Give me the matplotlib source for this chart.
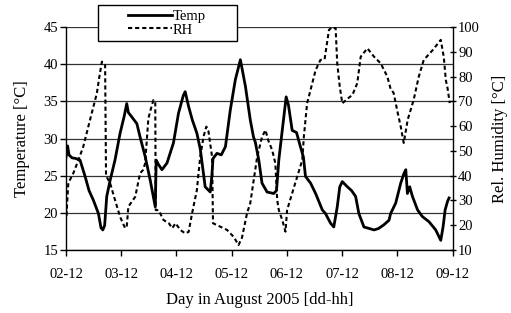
import matplotlib
matplotlib.use("Agg")
import matplotlib.pyplot as plt
from matplotlib.patches import Rectangle

plt.rcParams['font.family'] = ['Liberation Serif', 'DejaVu Serif']

# hours since 02-12 (day 2, 12:00)
temp_h = [0, 0.7, 1.3, 2.6, 4.4, 6.1, 8.3, 10.0, 11.9, 14.1, 15.2, 16.0, 16.8, 17.7, 19.2,
          21.3, 23.5, 25.3, 26.4, 27.1, 28.6, 30.8, 32.2, 34.4, 36.6, 38.8, 39.2, 40.2, 41.7,
          43.9, 46.7, 48.9, 51.0, 51.8, 53.3, 54.9, 56.9, 58.4, 60.5, 62.7, 63.4, 63.9, 65.6,
          67.5, 69.3, 71.4, 73.6, 75.8, 78.0, 80.1, 81.5, 82.3, 83.8, 85.2, 87.4, 90.3, 91.5,
          92.5, 94.0, 95.7, 96.7, 98.3, 100.2, 101.9, 103.2, 104.1, 106.3, 108.5, 111.4,
          112.8, 115.0, 116.4, 117.9, 119.0, 120.1, 122.3, 124.1, 125.9, 127.3, 129.5, 131.7,
          133.9, 135.9, 138.2, 140.4, 141.1, 143.3, 145.5, 146.9, 147.7, 148.4, 149.4, 150.6,
          152.8, 154.9, 157.8, 160.7, 162.9, 163.9, 164.8, 165.8, 166.5]
temp = [27.5, 29.0, 27.8, 27.4, 27.3, 27.1, 24.9, 23.0, 21.7, 19.9, 18.0, 17.7, 18.3, 22.2, 24.4,
        27.1, 30.7, 33.0, 34.7, 33.5, 32.9, 32.0, 30.2, 27.6, 24.4, 20.8, 27.1, 26.5, 25.8,
        26.7, 29.4, 33.4, 35.8, 36.3, 34.3, 32.5, 30.7, 28.5, 23.5, 22.8, 25.0, 27.3, 28.0,
        27.8, 28.9, 33.8, 37.9, 40.6, 37.0, 32.5, 30.2, 29.5, 27.1, 24.0, 22.8, 22.6, 23.0,
        27.1, 31.1, 35.6, 34.5, 31.1, 30.8, 28.9, 27.5, 24.9, 24.0, 22.6, 20.4,
        19.9, 18.6, 18.1, 20.8, 23.5, 24.2, 23.5, 23.0, 22.2, 19.9, 18.1, 17.9,
        17.7, 17.9, 18.4, 19.0, 19.9, 21.3, 24.0, 25.3, 25.8, 22.6, 23.5, 22.2,
        20.4, 19.5, 18.8, 17.7, 16.3, 18.1, 20.4, 21.5, 22.0]

rh_h = [0, 0.2, 1.0, 3.2, 5.4, 7.5, 9.7, 11.9, 13.4, 14.5, 15.6, 17.0, 17.4, 19.2, 21.3, 23.5,
        25.7, 26.4, 27.1, 30.1, 32.2, 33.5, 34.4, 35.8, 36.6, 38.0, 38.8, 39.0, 40.2, 42.4,
        44.7, 46.2, 47.6, 49.7, 51.8, 53.3, 54.8, 56.9, 57.6, 58.4, 59.8, 61.0, 61.9, 63.5,
        63.9, 67.1, 70.0, 72.9, 75.0, 76.5, 78.7, 80.1, 81.6, 83.1, 85.2, 86.7, 88.0, 89.6,
        91.0, 91.8, 92.5, 94.0, 95.4, 96.1, 98.3, 100.5, 102.7, 103.4, 104.8, 106.3, 108.5,
        110.6, 112.4, 114.3, 115.7, 117.2, 117.9, 119.0, 120.1, 122.3, 124.5, 126.6, 128.1,
        131.0, 133.9, 136.8, 139.7, 141.1, 142.4, 144.2, 145.5, 146.8, 147.7, 148.5, 151.1,
        153.3, 155.5, 159.4, 162.9, 164.2, 165.1, 165.9, 166.8]
rh = [27, 24, 37, 41, 46.3, 51.7, 59.8, 67.8, 73.2, 79.9, 86, 84.7, 40, 36.9, 30.2, 23.4,
      18.8, 19.4, 27.5, 31.5, 41, 42.3, 45, 63, 66, 70.5, 70, 26.1, 26.1, 22.1,
      20.8, 18.8, 20.8, 18.1, 16.7, 17.3, 24.8, 34.2, 41, 48, 55.8, 59.8, 58, 47.6,
      20.8, 19.4, 18.1, 15.3, 12, 15, 24.9, 28.9, 38.3, 47.6, 55.6, 58.4, 54, 50.4,
      45, 30.2, 26.1, 22.1, 17.4, 26.1, 32.9, 39.6, 46.3, 55.8, 69.2, 74.6, 82.6,
      86.7, 87, 98.8, 100, 99.5, 85.3, 75.9, 69.2, 71, 72.6, 77.3, 88,
      91.4, 88, 85.3, 79.9, 75, 73.4, 65.3, 59.8, 53.2, 58, 62.5, 70.5,
      79.8, 86.7, 90.7, 94.8, 88, 78.6, 75, 69.3]

xtick_pos = [0, 24, 48, 72, 96, 120, 144, 168]
xtick_labels = ['02-12', '03-12', '04-12', '05-12', '06-12', '07-12', '08-12', '09-12']

fig = plt.figure(figsize=(5.11, 3.13), dpi=100)
ax = fig.add_axes([66/511, 1-250/313, (452.5-66)/511, (250-27)/313])
ax2 = ax.twinx()

l1, = ax.plot(temp_h, temp, color='black', lw=2.0, label='Temp', zorder=3)
l2, = ax2.plot(rh_h, rh, color='black', lw=1.5, linestyle=(0, (2.0, 1.4)), label='RH')

ax.set_xlim(0, 168)
ax.set_ylim(15, 45)
ax2.set_ylim(10, 100)
ax.set_yticks([15, 20, 25, 30, 35, 40, 45])
ax2.set_yticks(list(range(10, 101, 10)))
ax.set_xticks(xtick_pos)
ax.set_xticklabels(xtick_labels)

ax.yaxis.grid(True, color='#333333', lw=0.9)
ax.set_axisbelow(True)

for a in (ax, ax2):
    a.spines['top'].set_visible(False)
ax.spines['right'].set_visible(False)
ax2.spines['left'].set_visible(False)
ax2.spines['bottom'].set_visible(False)
for s in ('left', 'bottom'):
    ax.spines[s].set_linewidth(1.0)
ax2.spines['right'].set_linewidth(1.0)

ax.tick_params(axis='x', direction='out', length=4.5, width=1, labelsize=10.5, pad=8.5)
ax.tick_params(axis='y', direction='out', length=4, width=1, labelsize=10.5, pad=1.5)
ax2.tick_params(axis='y', direction='inout', length=5, width=1, labelsize=10.5, pad=1.5)

ax.set_xlabel('Day in August 2005 [dd-hh]', fontsize=12, labelpad=8)
ax.set_ylabel('Temperature [°C]', fontsize=12, labelpad=10)
ax2.set_ylabel('Rel. Humidity [°C]', fontsize=12, labelpad=9)

# legend box
rect = Rectangle((98/511, 1-41/313), 139/511, 36/313, transform=fig.transFigure,
                 facecolor='white', edgecolor='black', lw=1.0, zorder=10)
fig.patches.append(rect)
leg = fig.legend([l1, l2], ['Temp', 'RH'], loc='center', frameon=False,
                 bbox_to_anchor=(167/511, 1-23/313), fontsize=10.5,
                 handlelength=3.0, handletextpad=0.1, labelspacing=0.05,
                 borderpad=0)
leg.set_zorder(11)

fig.savefig('out.png', dpi=100)
